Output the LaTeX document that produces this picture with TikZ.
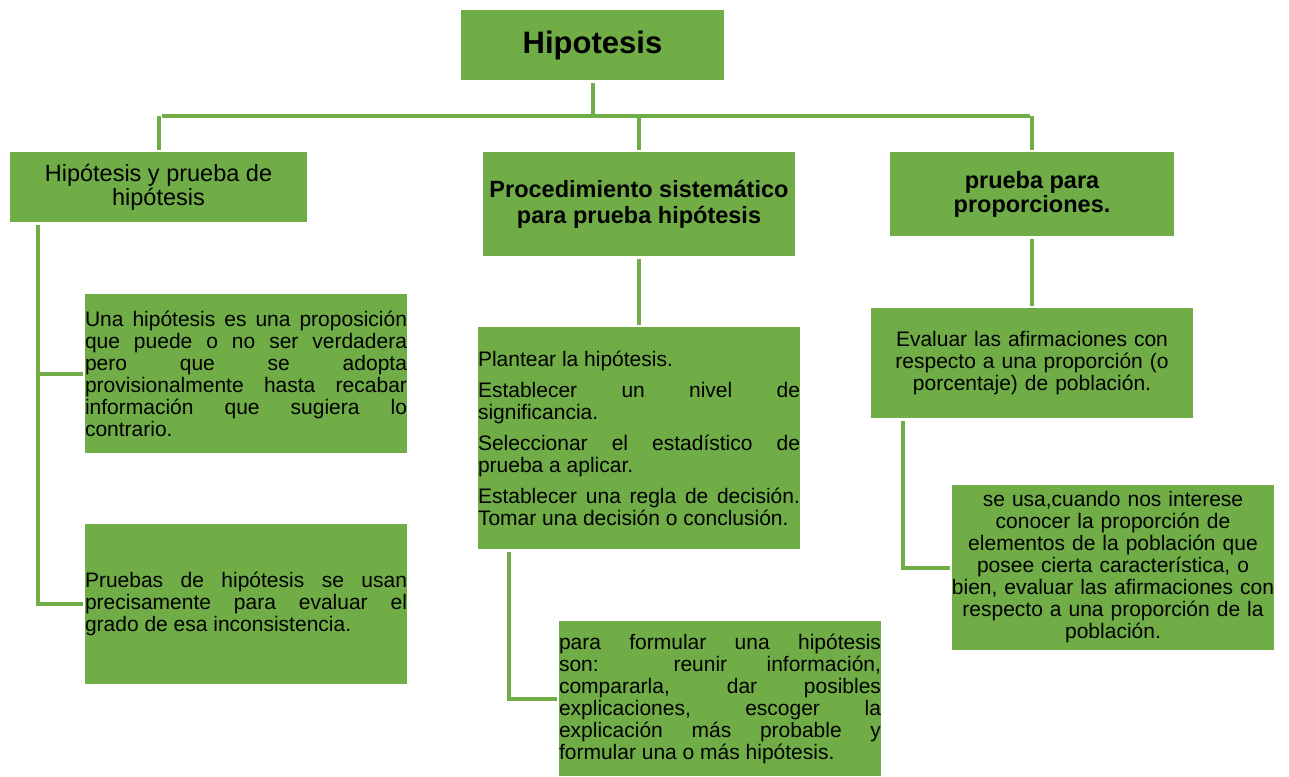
\documentclass[tikz,border=0pt]{standalone}
\usepackage{fontspec}
\setmainfont{Liberation Sans}
\definecolor{gr}{HTML}{70AD47}
\tikzset{
  box/.style={fill=gr, inner sep=0pt, outer sep=0pt, text=black},
  head/.style={box, font=\fontsize{23.5}{24}\selectfont, align=center},
  bodyj/.style={box, font=\fontsize{21}{22}\selectfont,
     execute at begin node={\tolerance=10000\relax\hbadness=10000\relax},
     text width=322pt, minimum width=322pt, align=justify},
  bodyc/.style={box, font=\fontsize{21}{22}\selectfont, text width=334pt,
     inner xsep=-6pt, minimum width=322pt, align=center},
  conn/.style={draw=gr, line width=4pt, shorten <=3pt, shorten >=2pt},
}
\begin{document}
\begin{tikzpicture}[x=1pt,y=-1pt]
\useasboundingbox (0,0) rectangle (1289,776);

\node[box, minimum width=263pt, minimum height=70pt,
      font=\fontsize{31}{34}\selectfont\bfseries] (T) at (592.5,45) {Hipotesis};

\node[head, minimum width=297pt, minimum height=70pt] (A) at (158.5,187)
  {Hipótesis y prueba de\\hipótesis};
\node[head, minimum width=312pt, minimum height=104pt,
      font=\fontsize{23.5}{26}\selectfont\bfseries] (B) at (639,204)
  {Procedimiento sistemático\\para prueba hipótesis};
\node[head, minimum width=284pt, minimum height=84pt,
      font=\fontsize{23.5}{24}\selectfont\bfseries] (C) at (1032,194)
  {prueba para\\proporciones.};

\node[bodyj, minimum height=159pt] (D) at (246,373.5)
  {Una hipótesis es una proposición\linebreak
   que puede o no ser verdadera\linebreak
   pero que se adopta\linebreak
   provisionalmente hasta recabar\linebreak
   información que sugiera lo\linebreak
   contrario.};

\node[bodyj, minimum height=160pt] (E) at (246,604)
  {Pruebas de hipótesis se usan\linebreak
   precisamente para evaluar el\linebreak
   grado de esa inconsistencia.};

\node[bodyj, minimum height=222pt] (F) at (639,438)
  {Plantear la hipótesis.\par\vspace{9pt}
   Establecer un nivel de\linebreak significancia.\par\vspace{9pt}
   Seleccionar el estadístico de\linebreak prueba a aplicar.\par\vspace{9pt}
   Establecer una regla de decisión.\linebreak
   Tomar una decisión o conclusión.};

\node[bodyj, minimum height=155pt] (G) at (720,698.5)
  {para formular una hipótesis\linebreak
   son: reunir información,\linebreak
   compararla, dar posibles\linebreak
   explicaciones, escoger la\linebreak
   explicación más probable y\linebreak
   formular una o más hipótesis.};

\node[bodyc, minimum height=110pt] (H) at (1032,363)
  {Evaluar las afirmaciones con\\
   respecto a una proporción (o\\
   porcentaje) de población.};

\node[bodyc, minimum height=165pt] (I) at (1113,567.5)
  {se usa,cuando nos interese\\
   conocer la proporción de\\
   elementos de la población que\\
   posee cierta característica, o\\
   bien, evaluar las afirmaciones con\\
   respecto a una proporción de la\\
   población.};

% connectors
\coordinate (bus) at (0,116);
\coordinate (sA) at (38,0);
\coordinate (sF) at (509,0);
\coordinate (sH) at (903,0);

\draw[conn, shorten >=0pt] (T.south) -- (T.south |- bus);
\draw[conn] (A.north |- bus) -- (C.north |- bus);
\draw[conn, shorten <=0pt] (A.north |- bus) -- (A.north);
\draw[conn, shorten <=0pt] (B.north |- bus) -- (B.north);
\draw[conn, shorten <=0pt] (C.north |- bus) -- (C.north);

\draw[conn] (A.south -| sA) -- (E.west -| sA) -- (E.west);
\draw[conn, shorten <=0pt] (D.west -| sA) -- (D.west);

\draw[conn] (B.south) -- (F.north);
\draw[conn] (F.south -| sF) -- (G.west -| sF) -- (G.west);

\draw[conn] (C.south) -- (H.north);
\draw[conn] (H.south -| sH) -- (I.west -| sH) -- (I.west);
\end{tikzpicture}
\end{document}
